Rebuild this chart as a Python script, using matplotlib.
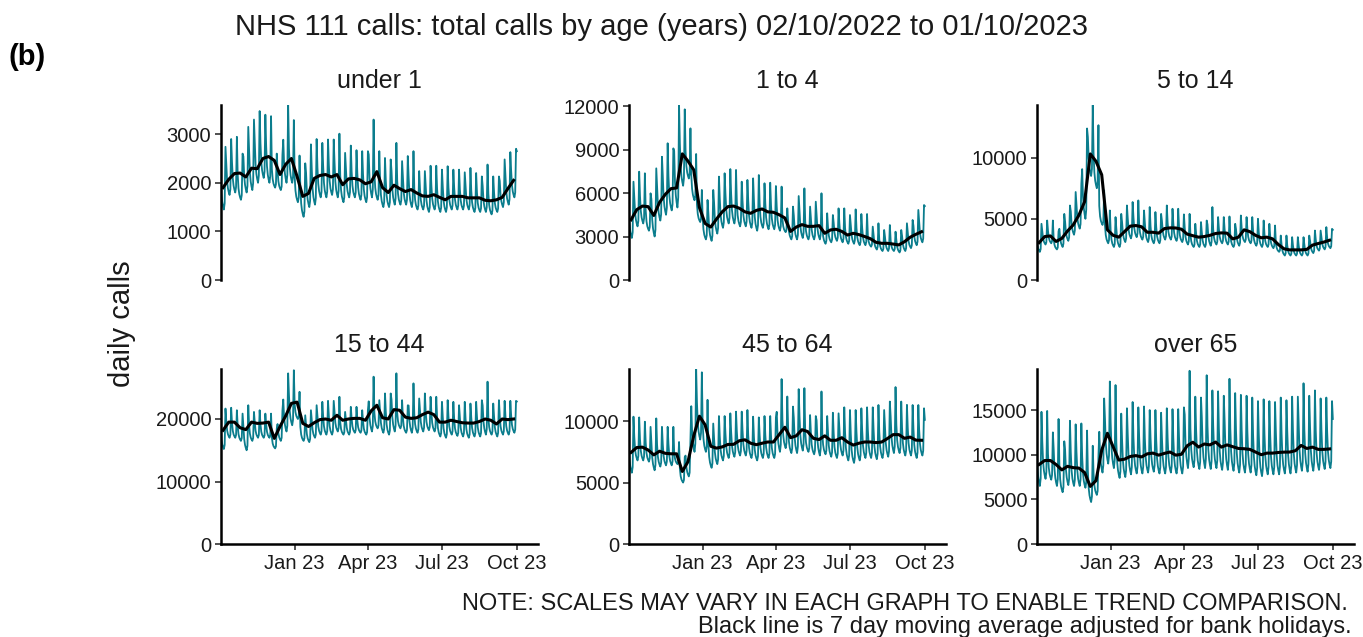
# NHS 111 calls by age band - daily calls with 7 day moving average
import numpy as np
import pandas as pd
import matplotlib.pyplot as plt
import matplotlib.dates as mdates

plt.rcParams['font.family'] = ['Liberation Sans', 'DejaVu Sans']

# dados (valores semanais)
panel_names = ['under 1', '1 to 4', '5 to 14', '15 to 44', '45 to 64', 'over 65']

# pico de fim de semana (sabado) de cada semana, a partir de 02/10/2022
peak_under1 = [2740, 2900, 2945, 2600, 3150, 3300, 3475, 3400, 3370, 2600, 2580, 3610, 3290,
               2560, 2400, 2790, 2900, 2820, 2890, 2890, 3010, 2615, 2765, 2670, 2650, 2650,
               3300, 2650, 2510, 2480, 2820, 2445, 2550, 2650, 2240, 2240, 2350, 2350, 2270,
               2340, 2270, 2270, 2215, 2305, 2200, 2130, 2375, 2130, 2130, 2480, 2630, 2700]
peak_1to4 = [6780, 7470, 7360, 5980, 7700, 8500, 9430, 9080, 12070, 11770, 10460, 8690, 6210,
             5520, 6210, 7130, 7360, 7650, 7590, 6780, 6900, 7010, 7240, 6670, 6710, 6480,
             6440, 4940, 5060, 5790, 6320, 5060, 5400, 5980, 4600, 4480, 4940, 4940, 4480,
             4870, 4550, 4550, 3680, 3910, 3450, 3790, 3330, 3450, 3910, 4140, 4830, 5170]
peak_5to14 = [4590, 4860, 4860, 4000, 5400, 6090, 7190, 7870, 12380, 14290, 12650, 7320, 5680,
              5140, 5400, 6090, 6370, 6500, 5680, 5960, 5550, 5400, 6090, 5820, 5820, 5360,
              5400, 4590, 4730, 4860, 5960, 5140, 5140, 5190, 4590, 5270, 5140, 5140, 5000,
              4860, 4590, 4450, 3630, 3630, 3500, 3500, 3500, 3630, 4040, 4040, 4320, 4180]
peak_15to44 = [21670, 21800, 21400, 20860, 22200, 21130, 21400, 20860, 20860, 18440, 21400,
               27300, 27800, 24350, 20590, 21400, 22200, 22740, 22900, 22900, 23550, 21130,
               21940, 21940, 21400, 21400, 26770, 23010, 24090, 24090, 27310, 23010, 22200,
               25700, 23280, 24090, 23550, 23550, 22740, 23010, 22740, 22200, 22740, 22470,
               22740, 23010, 25970, 22470, 23010, 22900, 22900, 22900]
peak_45to64 = [10360, 10300, 9950, 9530, 10220, 9530, 9530, 9530, 8300, 7070, 8580, 14250,
               13970, 11730, 9800, 10410, 10410, 10630, 10770, 10770, 10900, 10360, 10300,
               10410, 10410, 10300, 13420, 12000, 11180, 12600, 12680, 10490, 10410, 12410,
               10410, 10680, 10630, 11120, 10900, 10900, 11040, 11120, 11120, 11310, 10900,
               11590, 12770, 11590, 11320, 11310, 11310, 11040]
peak_over65 = [14800, 14900, 12500, 14000, 11500, 13800, 13400, 13500, 12700, 11000, 9800,
               16300, 18200, 17800, 14600, 15200, 15900, 15300, 15400, 15000, 15000, 14700,
               15200, 15100, 15100, 15300, 19400, 16500, 16400, 18900, 17200, 17100, 16600,
               18500, 16900, 16700, 16600, 16400, 16000, 16200, 16000, 15900, 16400, 16100,
               16500, 16500, 18000, 16600, 17200, 16300, 16400, 16000]

# nivel dos dias uteis de cada semana
low_under1 = [1450, 1750, 1800, 1650, 1800, 1850, 2000, 2100, 2000, 1900, 1850, 2000, 2000,
              1600, 1300, 1500, 1550, 1700, 1700, 1750, 1700, 1600, 1700, 1700, 1650, 1600,
              1700, 1650, 1500, 1500, 1550, 1550, 1550, 1500, 1450, 1450, 1400, 1450, 1400,
              1400, 1450, 1450, 1450, 1450, 1400, 1400, 1400, 1350, 1400, 1500, 1550, 1700]
low_1to4 = [2900, 3700, 3900, 3400, 3000, 4100, 4500, 4800, 5000, 6500, 7000, 5500, 4000,
            2800, 2700, 3200, 3600, 3900, 3900, 3700, 3700, 3600, 3400, 3600, 3500, 3500,
            3400, 3300, 2800, 2800, 2900, 2800, 2800, 2800, 2500, 2600, 2700, 2600, 2500,
            2500, 2400, 2400, 2300, 2100, 2000, 2000, 2000, 1900, 2000, 2200, 2400, 2600]
low_5to14 = [2300, 2900, 3000, 2500, 2700, 3200, 3700, 4200, 5000, 8500, 7500, 4500, 3000,
             2700, 2700, 3100, 3400, 3500, 3300, 3100, 3000, 3000, 3300, 3300, 3200, 3100,
             2900, 2700, 2700, 2700, 2800, 2900, 3000, 2900, 2700, 2800, 3100, 3000, 2800,
             2700, 2700, 2600, 2300, 2000, 2000, 2000, 2000, 2000, 2200, 2400, 2500, 2600]
low_15to44 = [15200, 17000, 17000, 16500, 15000, 16500, 17000, 17000, 17000, 15300, 16500,
              18000, 19000, 20000, 16500, 16300, 17000, 17500, 17500, 17500, 18000, 17500,
              17500, 17800, 17800, 17500, 18000, 18500, 17800, 17500, 18000, 18500, 17800,
              17800, 17800, 18000, 18200, 18000, 17200, 17000, 17500, 17300, 17200, 17000,
              17200, 17200, 17500, 17500, 17200, 17500, 17500, 17800]
low_45to64 = [5800, 6800, 6800, 6700, 6000, 6300, 6400, 6400, 6500, 5000, 5500, 7500, 8500,
              7500, 6200, 6500, 6800, 7000, 7100, 7200, 7200, 7000, 6800, 7000, 7000, 7000,
              7500, 7800, 7400, 7400, 7600, 7500, 7300, 7200, 7300, 7100, 7000, 7200, 6800,
              6600, 6800, 7000, 7000, 6900, 7000, 7100, 7400, 7400, 7200, 7200, 7000, 7200]
low_over65 = [6500, 7300, 7200, 6500, 5800, 6600, 6500, 6500, 6300, 4700, 5500, 8000, 9000,
              8500, 7400, 7500, 7800, 7900, 7900, 8000, 8100, 7900, 7900, 8000, 7900, 7900,
              8500, 8600, 8400, 8500, 8400, 8500, 8300, 8300, 8200, 8000, 8000, 8000, 7700,
              7600, 7800, 7800, 7800, 7900, 7900, 8000, 8200, 8100, 8200, 8300, 8400, 8500]

# ultimo dia (domingo 01/10/2023)
final_day = [2650, 5100, 4100, 22800, 10100, 14000]

# media movel de 7 dias (linha preta), centro de cada semana
ma_under1 = [1900, 2070, 2190, 2200, 2120, 2300, 2290, 2500, 2540, 2460, 2170, 2380, 2500,
             2130, 1720, 1780, 2090, 2150, 2170, 2120, 2170, 1960, 2080, 2090, 2060, 1980,
             2020, 2230, 1900, 1800, 1950, 1880, 1820, 1860, 1790, 1730, 1720, 1755, 1700,
             1650, 1720, 1720, 1720, 1690, 1690, 1690, 1640, 1630, 1650, 1700, 1880, 2050]
ma_1to4 = [4150, 4850, 5100, 5060, 4450, 5350, 5900, 6300, 6350, 8700, 8200, 7600, 5000,
           3900, 3650, 4200, 4700, 5060, 5100, 4950, 4700, 4600, 4800, 4900, 4700, 4670,
           4500, 4280, 3350, 3650, 3820, 3700, 3700, 3750, 3220, 3450, 3500, 3350, 3100,
           3220, 3130, 3000, 2850, 2600, 2530, 2530, 2480, 2420, 2640, 2950, 3150, 3330]
ma_5to14 = [3050, 3550, 3600, 3150, 3400, 4000, 4500, 5300, 6400, 10300, 9700, 8600, 4100,
            3650, 3500, 3950, 4400, 4450, 4350, 3900, 3900, 3830, 4200, 4260, 4250, 4150,
            3750, 3620, 3500, 3550, 3650, 3800, 3850, 3830, 3360, 3500, 4100, 3950, 3650,
            3450, 3500, 3360, 2900, 2550, 2460, 2460, 2460, 2500, 2850, 2980, 3100, 3250]
ma_15to44 = [18200, 19500, 19500, 18600, 18300, 19500, 19300, 19350, 19500, 16900, 18800,
             20500, 22500, 22700, 19300, 18800, 19400, 19900, 20000, 19800, 20600, 19800,
             20000, 20100, 20100, 19800, 21300, 22200, 20200, 20000, 21500, 21400, 20300,
             20100, 20200, 20700, 21100, 20700, 19500, 19500, 19800, 19600, 19400, 19350,
             19350, 19600, 20000, 19800, 19200, 20000, 19900, 20000]
ma_45to64 = [7450, 7850, 7880, 7650, 7250, 7550, 7380, 7340, 7340, 5900, 6700, 8800, 10400,
             9700, 7950, 7800, 7900, 8100, 8110, 8400, 8480, 8200, 8080, 8200, 8300, 8300,
             8900, 9500, 8650, 8800, 9300, 9150, 8600, 8500, 8800, 8440, 8440, 8650, 8300,
             8050, 8200, 8300, 8300, 8250, 8300, 8580, 8900, 8900, 8600, 8700, 8450, 8440]
ma_over65 = [8900, 9350, 9350, 8900, 8300, 8700, 8550, 8500, 8000, 6450, 7100, 10500, 12400,
             10900, 9400, 9500, 9800, 9900, 9750, 10100, 10180, 9950, 10150, 10300, 9950,
             10050, 11000, 11400, 10860, 11200, 11100, 11420, 10850, 11100, 10900, 10700,
             10670, 10600, 10300, 10000, 10180, 10180, 10250, 10290, 10300, 10450, 11040,
             10700, 10850, 10600, 10600, 10650]

# perfil semanal (domingo..sabado) entre nivel util e pico
week_shape = [0.55, 0.25, 0.12, 0.05, 0.0, 0.1, 1.0]

peaks = [peak_under1, peak_1to4, peak_5to14, peak_15to44, peak_45to64, peak_over65]
lows = [low_under1, low_1to4, low_5to14, low_15to44, low_45to64, low_over65]
mas = [ma_under1, ma_1to4, ma_5to14, ma_15to44, ma_45to64, ma_over65]

y_max = [3600, 12070, 14300, 28000, 14240, 19600]
y_ticks = [[0, 1000, 2000, 3000], [0, 3000, 6000, 9000, 12000], [0, 5000, 10000],
           [0, 10000, 20000], [0, 5000, 10000], [0, 5000, 10000, 15000]]

start = pd.Timestamp('2022-10-02')
dates = pd.date_range(start, '2023-10-01', freq='D')
ma_dates = [start + pd.Timedelta(days=7 * w + 3) for w in range(52)]

teal = '#0b7d8d'

fig = plt.figure(figsize=(13.63, 6.37), dpi=100)

lefts = [221, 629, 1037]
tops = [105, 369]
W, H = 1363, 637
pw, ph = 317, 175

for i, name in enumerate(panel_names):
    row, col = i // 3, i % 3
    ax = fig.add_axes([lefts[col] / W, 1 - (tops[row] + ph) / H, pw / W, ph / H])

    daily = []
    for w in range(52):
        for k in range(7):
            daily.append(lows[i][w] + (peaks[i][w] - lows[i][w]) * week_shape[k])
    daily.append(final_day[i])

    ax.plot(dates, daily, color=teal, lw=1.3)
    ax.plot(ma_dates, mas[i], color='black', lw=2.2)

    ax.set_xlim(pd.Timestamp('2022-10-02 12:00'), pd.Timestamp('2023-10-27'))
    ax.set_ylim(0, y_max[i])
    ax.set_yticks(y_ticks[i])
    ax.set_yticklabels([str(t) for t in y_ticks[i]])
    ax.set_title(name, fontsize=18, pad=12, color='#1a1a1a')

    for s in ['top', 'right']:
        ax.spines[s].set_visible(False)
    ax.spines['left'].set_linewidth(1.8)
    ax.spines['bottom'].set_linewidth(1.8)
    ax.tick_params(axis='y', labelsize=14.5, length=4, width=1.2, color='#333333',
                   labelcolor='#1a1a1a', pad=3)

    if row == 0:
        ax.spines['bottom'].set_visible(False)
        ax.set_xticks([])
    else:
        ax.set_xticks([pd.Timestamp('2023-01-01'), pd.Timestamp('2023-04-01'),
                       pd.Timestamp('2023-07-01'), pd.Timestamp('2023-10-01')])
        ax.xaxis.set_major_formatter(mdates.DateFormatter('%b %y'))
        ax.tick_params(axis='x', labelsize=14.5, length=4, width=1.2, color='#333333',
                       labelcolor='#1a1a1a', pad=3)

fig.text(0.485, 1 - 27 / H, 'NHS 111 calls: total calls by age (years) 02/10/2022 to 01/10/2023',
         ha='center', va='center', fontsize=21, color='#1a1a1a')
fig.text(8 / W, 1 - 57 / H, '(b)', ha='left', va='center', fontsize=21, fontweight='bold')
fig.text(122 / W, 1 - 324 / H, 'daily calls', rotation=90, ha='center', va='center',
         fontsize=21, color='#1a1a1a')
fig.text(1348 / W, 1 - 604 / H, 'NOTE: SCALES MAY VARY IN EACH GRAPH TO ENABLE TREND COMPARISON.',
         ha='right', va='center', fontsize=17, color='#1a1a1a')
fig.text(1352 / W, 1 - 627 / H, 'Black line is 7 day moving average adjusted for bank holidays.',
         ha='right', va='center', fontsize=17, color='#1a1a1a')

plt.savefig('out.png', dpi=100)
